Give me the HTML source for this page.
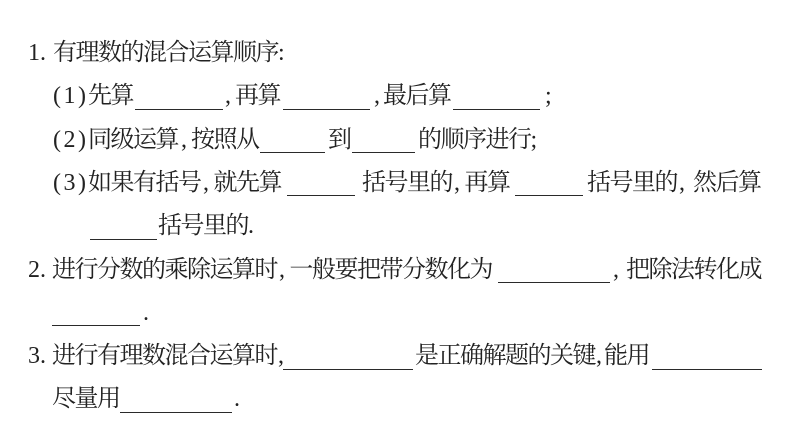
<!DOCTYPE html>
<html><head><meta charset="utf-8"><style>
html,body{margin:0;padding:0;background:#fff;}
body{width:794px;height:447px;position:relative;overflow:hidden;}
.t{position:absolute;white-space:nowrap;font-family:"Liberation Serif","Noto Serif CJK SC","Noto Serif SC","Source Han Serif SC","Noto Sans CJK SC",serif;font-size:24px;line-height:24px;color:#222;letter-spacing:-1.5px;}
.p{letter-spacing:2.5px;}
.u{position:absolute;height:1px;background:#2a2a2a;}
</style></head><body>
<!-- L1 -->
<div class="t" style="left:28px;top:41px;letter-spacing:0">1.</div>
<div class="t" style="left:53px;top:41px">有理数的混合运算顺序:</div>
<!-- L2 -->
<div class="t p" style="left:53px;top:84.3px">(1)</div>
<div class="t" style="left:88px;top:84.3px">先算</div>
<div class="u" style="left:135px;width:88px;top:109px"></div>
<div class="t" style="left:225px;top:84.3px">,</div>
<div class="t" style="left:235px;top:84.3px">再算</div>
<div class="u" style="left:283px;width:87px;top:109px"></div>
<div class="t" style="left:374px;top:84.3px">,</div>
<div class="t" style="left:383px;top:84.3px">最后算</div>
<div class="u" style="left:453px;width:87px;top:109px"></div>
<div class="t" style="left:545px;top:84.3px">;</div>
<!-- L3 -->
<div class="t p" style="left:53px;top:127.6px">(2)</div>
<div class="t" style="left:88px;top:127.6px">同级运算</div>
<div class="t" style="left:181px;top:127.6px">,</div>
<div class="t" style="left:191px;top:127.6px">按照从</div>
<div class="u" style="left:260px;width:65px;top:152px"></div>
<div class="t" style="left:328px;top:127.6px">到</div>
<div class="u" style="left:352px;width:63px;top:152px"></div>
<div class="t" style="left:418px;top:127.6px">的顺序进行;</div>
<!-- L4 -->
<div class="t p" style="left:53px;top:170.9px">(3)</div>
<div class="t" style="left:88px;top:170.9px">如果有括号</div>
<div class="t" style="left:203px;top:170.9px">,</div>
<div class="t" style="left:213.5px;top:170.9px">就先算</div>
<div class="u" style="left:287px;width:68px;top:195.3px"></div>
<div class="t" style="left:362px;top:170.9px">括号里的</div>
<div class="t" style="left:454px;top:170.9px">,</div>
<div class="t" style="left:464.5px;top:170.9px">再算</div>
<div class="u" style="left:515px;width:68px;top:195.3px"></div>
<div class="t" style="left:587px;top:170.9px">括号里的</div>
<div class="t" style="left:679px;top:170.9px">,</div>
<div class="t" style="left:693px;top:170.9px">然后算</div>
<!-- L5 -->
<div class="u" style="left:90px;width:67px;top:238.6px"></div>
<div class="t" style="left:158px;top:214.2px">括号里的.</div>
<!-- L6 -->
<div class="t" style="left:28px;top:257.5px;letter-spacing:0">2.</div>
<div class="t" style="left:52px;top:257.5px">进行分数的乘除运算时</div>
<div class="t" style="left:279px;top:257.5px">,</div>
<div class="t" style="left:289.5px;top:257.5px">一般要把带分数化为</div>
<div class="u" style="left:498px;width:112px;top:281.9px"></div>
<div class="t" style="left:613px;top:257.5px">,</div>
<div class="t" style="left:626px;top:257.5px">把除法转化成</div>
<!-- L7 -->
<div class="u" style="left:52px;width:88px;top:325px"></div>
<div class="t" style="left:143px;top:300.8px">.</div>
<!-- L8 -->
<div class="t" style="left:28px;top:344.1px;letter-spacing:0">3.</div>
<div class="t" style="left:52px;top:344.1px">进行有理数混合运算时</div>
<div class="t" style="left:278px;top:344.1px">,</div>
<div class="u" style="left:283px;width:130px;top:368.5px"></div>
<div class="t" style="left:415px;top:344.1px">是正确解题的关键</div>
<div class="t" style="left:596px;top:344.1px">,</div>
<div class="t" style="left:604px;top:344.1px">能用</div>
<div class="u" style="left:652px;width:110px;top:368.5px"></div>
<!-- L9 -->
<div class="t" style="left:52px;top:387.4px">尽量用</div>
<div class="u" style="left:120px;width:112px;top:411.8px"></div>
<div class="t" style="left:234px;top:387.4px">.</div>
</body></html>
